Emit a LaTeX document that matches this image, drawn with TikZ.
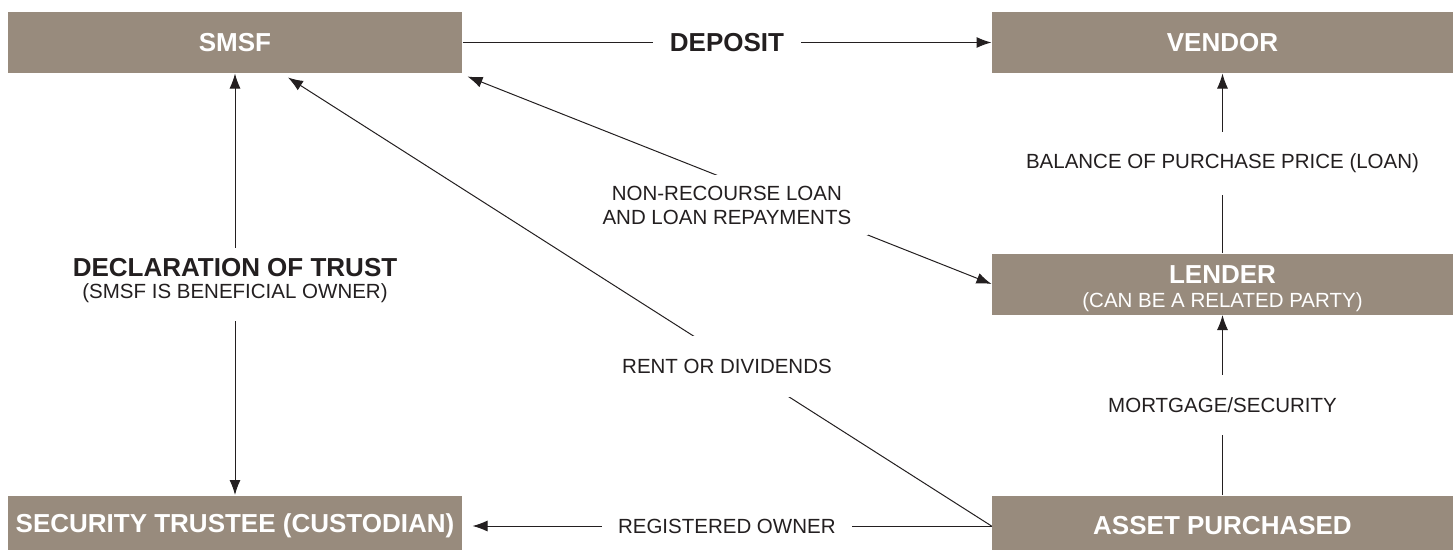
\documentclass[tikz,border=0pt]{standalone}
\usepackage{fontspec}
\setmainfont{Liberation Sans}
\usetikzlibrary{arrows.meta}
\definecolor{boxgrey}{RGB}{152,139,125}
\definecolor{ink}{RGB}{35,31,32}

\begin{document}
\begin{tikzpicture}[x=1pt, y=-1pt, >={Latex[length=15pt,width=11pt]}, line width=1pt, draw=ink,
  party/.style={fill=boxgrey, text=white, minimum width=454pt, minimum height=61pt, inner sep=0pt, align=center, font=\bfseries\fontsize{26}{24}\selectfont},
  flow/.style={fill=white, text=ink, inner xsep=16.5pt, inner ysep=4pt, align=center, font=\fontsize{20.5}{24}\selectfont}]
  \useasboundingbox (0,0) rectangle (1453,549);
  \clip (0,0) rectangle (1453,549);

  % Parties
  \node[party] (smsf) at (235,42.5) {SMSF};
  \node[party, minimum width=461pt] (vendor) at (1222.5,42.5) {VENDOR};
  \node[party, minimum width=461pt] (lender) at (1222.5,284) {\rule{0pt}{28pt}LENDER\\{\mdseries\fontsize{20.5}{24}\selectfont (CAN BE A RELATED PARTY)}};
  \node[party] (trustee) at (235,526) {SECURITY TRUSTEE (CUSTODIAN)};
  \node[party, minimum width=461pt] (asset) at (1222.5,526) {ASSET PURCHASED};

  % Flows
  \draw[->] (smsf) -- node[flow, font=\bfseries\fontsize{26}{24}\selectfont] {DEPOSIT} (vendor);
  \draw[<->] (smsf) -- node[flow, inner ysep=11pt] {{\bfseries\fontsize{26}{24}\selectfont DECLARATION OF TRUST}\\[-2pt](SMSF IS BENEFICIAL OWNER)\rule[-11pt]{0pt}{11pt}} (trustee);
  \draw[<->] ([xshift=5pt,yshift=-3pt]smsf.south east) -- node[flow, pos=0.495, yshift=-26pt, inner ysep=11pt] {NON-RECOURSE LOAN\\AND LOAN REPAYMENTS} (lender.west);
  \draw[->] (asset.west) -- node[flow, pos=0.376, yshift=-9pt, inner xsep=8pt, inner ysep=23pt] {RENT OR DIVIDENDS} ([xshift=53pt,yshift=-4pt]smsf.south);
  \draw[->] (asset.west) -- node[flow, pos=0.51] {REGISTERED OWNER} ([xshift=10pt]trustee.east);
  \draw[->] (lender) -- node[flow, inner ysep=22pt] {BALANCE OF PURCHASE PRICE (LOAN)} (vendor);
  \draw[->] (asset) -- node[flow, inner ysep=22pt] {MORTGAGE/SECURITY} (lender);
\end{tikzpicture}
\end{document}
